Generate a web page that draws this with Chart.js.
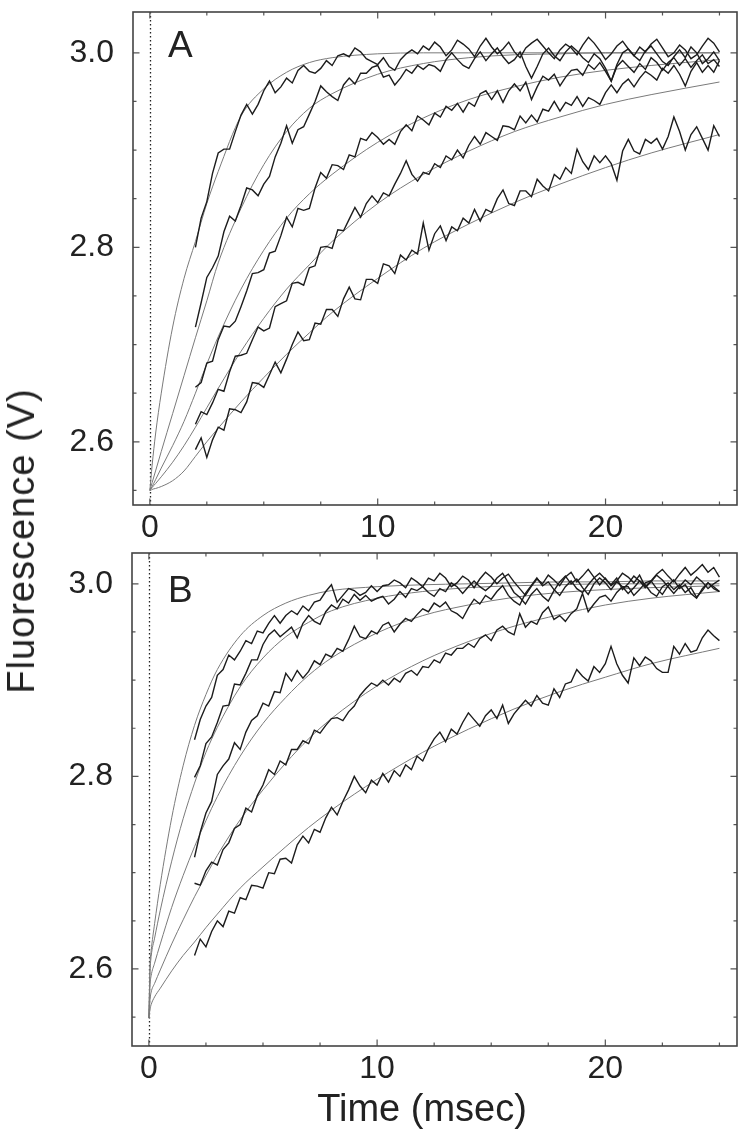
<!DOCTYPE html>
<html><head><meta charset="utf-8">
<script src="https://cdn.jsdelivr.net/npm/chart.js@4.4.1/dist/chart.umd.min.js"></script>
<style>
html,body{margin:0;padding:0;background:#fff;}
#wrap{position:relative;width:750px;height:1142px;background:#fff;overflow:hidden;}
canvas{position:absolute;left:0;}
#cA{top:0;}
#cB{top:548px;}
.ttl{position:absolute;font-family:'Liberation Sans',Arial,Helvetica,sans-serif;color:#222;line-height:1;white-space:nowrap;}
#ylab{left:21px;top:541px;font-size:38px;letter-spacing:1px;transform:translate(-50%,-50%) rotate(-90deg);}
#xlab{left:422px;top:1089px;font-size:38px;transform:translateX(-50%);}
</style></head>
<body><div id="wrap">
<canvas id="cA" width="750" height="548"></canvas>
<canvas id="cB" width="750" height="594"></canvas>
<div class="ttl" id="ylab">Fluorescence (V)</div>
<div class="ttl" id="xlab">Time (msec)</div>
</div>
<script>
// ---- time bases (ms) ----
const TIME = [2,2.25,2.5,2.75,3,3.25,3.5,3.75,4,4.25,4.5,4.75,5,5.25,5.5,5.75,6,6.25,6.5,6.75,7,7.25,7.5,7.75,8,8.25,8.5,8.75,9,9.25,9.5,9.75,10,10.25,10.5,10.75,11,11.25,11.5,11.75,12,12.25,12.5,12.75,13,13.25,13.5,13.75,14,14.25,14.5,14.75,15,15.25,15.5,15.75,16,16.25,16.5,16.75,17,17.25,17.5,17.75,18,18.25,18.5,18.75,19,19.25,19.5,19.75,20,20.25,20.5,20.75,21,21.25,21.5,21.75,22,22.25,22.5,22.75,23,23.25,23.5,23.75,24,24.25,24.5,24.75,25];
const FIT_T = [0,0.05,0.1,0.25,0.5,1,1.5,2,2.5,3,4,5,6,7,8,10,12,14,16,18,20,22,25];

// ---- panel A traces (V) ----
const A_TRACE_1 = [2.800,2.830,2.847,2.876,2.897,2.901,2.901,2.919,
2.936,2.947,2.937,2.947,2.961,2.971,2.959,2.965,
2.974,2.969,2.982,2.987,2.981,2.979,2.984,2.992,
2.987,2.997,2.999,2.996,3.005,3.001,2.994,2.991,
2.988,2.995,2.986,2.982,2.993,2.999,3.003,2.999,
3.007,3.003,3.011,3.006,2.997,3.003,3.013,3.009,
3.004,2.996,3.007,3.015,3.006,2.999,3.004,3.011,
3.001,2.995,3.005,3.010,3.014,3.007,3.000,2.994,
3.003,3.009,3.005,2.998,3.008,3.016,3.010,3.002,
2.993,2.999,3.007,3.012,3.004,2.997,3.006,3.001,
3.009,3.014,3.005,2.996,3.000,3.008,3.003,2.994,
2.998,3.007,3.015,3.010,3.001];
const A_TRACE_2 = [2.718,2.743,2.769,2.779,2.791,2.816,2.832,2.827,
2.843,2.861,2.859,2.853,2.865,2.873,2.893,2.907,
2.925,2.907,2.921,2.924,2.937,2.950,2.966,2.960,
2.955,2.951,2.967,2.974,2.968,2.979,2.979,2.985,
2.987,2.975,2.977,2.967,2.974,2.983,2.979,2.987,
2.983,2.988,2.986,2.981,2.993,3.000,2.993,2.987,
2.984,2.994,3.001,2.992,2.999,3.005,2.996,2.989,
2.993,3.001,2.986,2.974,2.986,2.999,3.005,2.997,
2.992,3.001,3.007,3.002,2.995,2.990,2.999,2.994,
2.984,2.971,2.988,3.000,3.004,2.997,2.992,3.002,
3.007,2.999,2.991,2.987,2.996,3.003,2.995,3.006,
3.000,2.989,2.994,3.001,2.992];
const A_TRACE_3 = [2.656,2.661,2.681,2.683,2.705,2.719,2.718,2.724,
2.739,2.755,2.773,2.774,2.777,2.794,2.796,2.812,
2.831,2.821,2.840,2.838,2.840,2.861,2.877,2.871,
2.885,2.884,2.880,2.895,2.893,2.912,2.910,2.918,
2.913,2.906,2.911,2.906,2.919,2.926,2.920,2.935,
2.931,2.926,2.938,2.934,2.945,2.941,2.948,2.939,
2.949,2.945,2.958,2.961,2.952,2.961,2.949,2.961,
2.968,2.961,2.970,2.952,2.965,2.976,2.972,2.978,
2.966,2.975,2.982,2.983,2.977,2.988,2.983,2.990,
2.981,2.971,2.986,2.992,2.986,2.980,2.989,2.983,
2.995,2.990,2.982,2.990,2.995,2.987,2.994,2.985,
2.992,2.998,2.989,2.993,2.986];
const A_TRACE_4 = [2.618,2.631,2.628,2.640,2.654,2.652,2.672,2.688,
2.689,2.691,2.705,2.718,2.714,2.717,2.739,2.742,
2.745,2.763,2.764,2.761,2.779,2.781,2.800,2.801,
2.799,2.818,2.817,2.829,2.841,2.831,2.845,2.853,
2.846,2.856,2.853,2.865,2.876,2.889,2.875,2.868,
2.877,2.875,2.886,2.882,2.894,2.890,2.900,2.892,
2.905,2.914,2.906,2.918,2.914,2.910,2.925,2.924,
2.921,2.935,2.928,2.936,2.929,2.942,2.940,2.950,
2.940,2.949,2.946,2.955,2.945,2.954,2.951,2.947,
2.959,2.967,2.959,2.968,2.973,2.965,2.974,2.981,
2.977,2.972,2.984,2.979,2.987,2.978,2.966,2.981,
2.990,2.980,2.987,2.980,2.992];
const A_TRACE_5 = [2.592,2.604,2.584,2.602,2.615,2.612,2.634,2.633,
2.630,2.641,2.661,2.660,2.656,2.669,2.682,2.671,
2.685,2.700,2.713,2.704,2.705,2.722,2.721,2.736,
2.736,2.729,2.747,2.759,2.747,2.746,2.767,2.767,
2.763,2.783,2.781,2.773,2.792,2.787,2.797,2.793,
2.825,2.797,2.814,2.822,2.807,2.821,2.817,2.830,
2.825,2.839,2.827,2.839,2.836,2.850,2.859,2.845,
2.843,2.858,2.858,2.852,2.870,2.863,2.858,2.875,
2.870,2.882,2.876,2.901,2.888,2.880,2.894,2.887,
2.894,2.886,2.869,2.899,2.911,2.899,2.896,2.911,
2.907,2.912,2.901,2.914,2.934,2.919,2.900,2.916,
2.924,2.912,2.900,2.925,2.914];

// ---- panel A fitted curves (V) at FIT_T ----
const A_FIT_1 = [2.550,2.563,2.576,2.608,2.650,2.718,2.768,2.806,2.845,2.878,2.935,2.963,2.980,2.990,2.995,2.999,3.000,3.000,3.000,3.000,3.000,3.000,3.000];
const A_FIT_2 = [2.550,2.554,2.558,2.570,2.590,2.629,2.668,2.707,2.745,2.784,2.840,2.885,2.919,2.943,2.958,2.978,2.989,2.995,2.998,2.999,3.000,3.000,3.000];
const A_FIT_3 = [2.550,2.552,2.554,2.561,2.573,2.596,2.621,2.650,2.680,2.708,2.757,2.797,2.830,2.855,2.875,2.908,2.933,2.952,2.965,2.975,2.982,2.987,2.993];
const A_FIT_4 = [2.550,2.551,2.553,2.557,2.564,2.579,2.596,2.615,2.635,2.655,2.693,2.727,2.757,2.782,2.806,2.845,2.875,2.899,2.919,2.934,2.947,2.957,2.970];
const A_FIT_5 = [2.550,2.550,2.551,2.552,2.554,2.560,2.570,2.585,2.600,2.614,2.641,2.666,2.690,2.712,2.733,2.768,2.799,2.824,2.846,2.865,2.882,2.897,2.916];

// ---- panel B traces (V) ----
const B_TRACE_1 = [2.838,2.859,2.873,2.882,2.905,2.911,2.926,2.921,
2.930,2.941,2.938,2.951,2.949,2.959,2.967,2.959,
2.967,2.972,2.968,2.977,2.972,2.981,2.983,2.992,
2.999,2.981,2.988,2.995,2.993,2.988,2.991,2.998,
2.992,2.998,2.999,3.004,3.001,2.996,3.006,3.002,
2.997,3.006,3.003,3.011,3.006,2.997,3.001,3.008,
3.004,2.996,3.005,3.012,3.007,3.000,3.006,3.010,
3.002,2.995,2.988,2.997,3.005,3.000,3.009,3.004,
2.998,3.007,3.012,3.002,3.008,3.015,3.007,2.999,
3.006,2.998,3.003,3.011,3.007,3.001,3.009,2.997,
3.003,3.010,3.015,3.008,3.002,3.010,3.017,3.009,
3.014,3.020,3.012,3.017,3.007];
const B_TRACE_2 = [2.799,2.811,2.834,2.841,2.856,2.873,2.874,2.896,
2.895,2.907,2.921,2.921,2.937,2.947,2.952,2.945,
2.950,2.955,2.944,2.959,2.967,2.961,2.958,2.971,
2.978,2.974,2.984,2.980,2.989,2.983,2.988,2.982,
2.985,2.987,2.979,2.984,2.992,2.986,2.995,2.993,
2.997,2.991,2.987,2.995,2.992,3.001,2.997,2.990,
2.997,3.003,2.997,2.993,2.998,3.006,3.011,3.001,
2.991,2.986,2.979,2.989,2.995,2.987,2.982,2.993,
3.002,3.008,3.000,3.005,2.996,2.989,3.000,3.006,
3.001,2.994,3.002,2.997,2.990,2.996,3.003,2.999,
2.991,2.987,2.997,3.001,2.994,2.999,2.991,2.996,
2.986,2.993,3.001,2.997,2.992];
const B_TRACE_3 = [2.716,2.742,2.762,2.774,2.802,2.811,2.818,2.835,
2.828,2.846,2.858,2.863,2.876,2.873,2.888,2.887,
2.907,2.899,2.910,2.902,2.909,2.920,2.916,2.927,
2.924,2.933,2.930,2.942,2.956,2.945,2.943,2.951,
2.948,2.957,2.960,2.950,2.958,2.964,2.961,2.968,
2.974,2.971,2.980,2.976,2.981,2.972,2.969,2.964,
2.975,2.984,2.979,2.988,2.984,2.992,2.998,2.988,
2.982,2.978,2.990,2.998,3.006,2.998,3.002,2.994,
2.988,2.997,3.003,2.995,2.991,2.999,3.006,3.011,
3.005,2.999,3.006,2.994,3.000,3.008,3.003,2.996,
3.002,3.009,3.004,2.997,2.990,2.997,3.004,2.999,
3.007,3.002,2.995,3.000,3.004];
const B_TRACE_4 = [2.689,2.687,2.702,2.711,2.708,2.724,2.731,2.746,
2.750,2.767,2.763,2.780,2.791,2.807,2.802,2.816,
2.812,2.828,2.828,2.837,2.834,2.848,2.845,2.853,
2.860,2.861,2.858,2.867,2.873,2.884,2.891,2.897,
2.894,2.900,2.895,2.902,2.898,2.907,2.910,2.905,
2.914,2.913,2.921,2.918,2.928,2.926,2.933,2.933,
2.938,2.934,2.943,2.947,2.941,2.952,2.956,2.950,
2.947,2.969,2.955,2.961,2.958,2.970,2.976,2.963,
2.967,2.961,2.969,2.974,2.990,2.971,2.979,2.986,
2.988,2.982,2.991,2.997,2.997,2.988,2.994,3.001,
3.003,2.995,2.989,2.998,3.004,2.995,2.999,2.990,
2.985,2.995,3.001,2.995,2.992];
const B_TRACE_5 = [2.614,2.631,2.623,2.639,2.650,2.644,2.660,2.658,
2.674,2.672,2.687,2.686,2.684,2.700,2.699,2.714,
2.715,2.710,2.729,2.738,2.731,2.745,2.742,2.757,
2.768,2.760,2.774,2.786,2.800,2.790,2.783,2.796,
2.791,2.803,2.794,2.806,2.800,2.812,2.807,2.821,
2.816,2.829,2.839,2.846,2.836,2.849,2.844,2.856,
2.866,2.859,2.852,2.863,2.869,2.860,2.874,2.855,
2.865,2.872,2.879,2.873,2.884,2.876,2.874,2.891,
2.882,2.896,2.898,2.911,2.904,2.899,2.914,2.908,
2.917,2.935,2.917,2.905,2.897,2.923,2.915,2.924,
2.920,2.912,2.908,2.908,2.935,2.927,2.938,2.929,
2.931,2.944,2.952,2.946,2.941];

// ---- panel B fitted curves (V) at FIT_T ----
const B_FIT_1 = [2.549,2.605,2.619,2.647,2.688,2.757,2.811,2.853,2.885,2.911,2.946,2.967,2.980,2.988,2.993,2.997,2.999,3.000,3.001,3.002,3.002,3.003,3.003];
const B_FIT_2 = [2.549,2.597,2.613,2.632,2.661,2.712,2.756,2.793,2.825,2.851,2.893,2.923,2.945,2.960,2.972,2.985,2.992,2.996,2.998,2.999,3.000,3.000,3.000];
const B_FIT_3 = [2.549,2.583,2.593,2.606,2.626,2.664,2.697,2.727,2.754,2.779,2.821,2.855,2.882,2.905,2.923,2.949,2.967,2.978,2.986,2.991,2.994,2.996,2.998];
const B_FIT_4 = [2.549,2.568,2.576,2.585,2.599,2.626,2.651,2.675,2.697,2.718,2.755,2.786,2.814,2.839,2.860,2.894,2.920,2.940,2.956,2.968,2.978,2.985,2.992];
const B_FIT_5 = [2.549,2.558,2.563,2.571,2.580,2.598,2.614,2.628,2.643,2.657,2.684,2.706,2.727,2.747,2.765,2.797,2.825,2.849,2.870,2.888,2.903,2.917,2.933];

// ---- axes ----
const X_TICKS = [0, 10, 20];
const X_MINOR = [2.5, 5, 7.5, 12.5, 15, 17.5, 22.5, 25];
const Y_TICKS = [2.6, 2.8, 3.0];
const Y_MINOR = [2.55, 2.65, 2.7, 2.75, 2.85, 2.9, 2.95];
const X_MIN = -0.74, X_MAX = 25.77;
const A_Y_MIN = 2.535, A_Y_MAX = 3.042;
const B_Y_MIN = 2.520, B_Y_MAX = 3.032;
const STIM_T = 0;

const FONT = "'Liberation Sans', Arial, Helvetica, sans-serif";
const INK = '#222';

function pts(xs, ys) { return xs.map((x, i) => ({x: x, y: ys[i]})); }

const framePlugin = {
  id: 'frame',
  beforeDatasetsDraw(chart) {
    const {ctx, chartArea: a, scales: {x}} = chart;
    const px = Math.round(x.getPixelForValue(STIM_T)) + 0.5;
    ctx.save();
    ctx.strokeStyle = '#222';
    ctx.lineWidth = 1.3;
    ctx.setLineDash([1.5, 2.5]);
    ctx.beginPath();
    ctx.moveTo(px, a.top);
    ctx.lineTo(px, a.bottom);
    ctx.stroke();
    ctx.restore();
  },
  afterDatasetsDraw(chart, args, opts) {
    const {ctx, chartArea: a, scales: {x, y}} = chart;
    ctx.save();
    ctx.setLineDash([]);
    ctx.strokeStyle = '#555';
    ctx.lineWidth = 1.2;
    ctx.beginPath();
    const tk = (v, len, isX) => {
      if (isX) {
        const p = x.getPixelForValue(v);
        ctx.moveTo(p, a.bottom); ctx.lineTo(p, a.bottom - len);
        ctx.moveTo(p, a.top); ctx.lineTo(p, a.top + len);
      } else {
        const p = y.getPixelForValue(v);
        ctx.moveTo(a.left, p); ctx.lineTo(a.left + len, p);
        ctx.moveTo(a.right, p); ctx.lineTo(a.right - len, p);
      }
    };
    X_TICKS.forEach(v => tk(v, 6.5, true));
    X_MINOR.forEach(v => tk(v, 3.5, true));
    Y_TICKS.forEach(v => tk(v, 6.5, false));
    Y_MINOR.forEach(v => tk(v, 3.5, false));
    ctx.stroke();
    ctx.strokeStyle = '#444';
    ctx.lineWidth = 1.6;
    ctx.strokeRect(a.left, a.top, a.right - a.left, a.bottom - a.top);
    ctx.fillStyle = INK;
    ctx.font = '37px ' + FONT;
    ctx.textAlign = 'left';
    ctx.textBaseline = 'alphabetic';
    ctx.fillText(opts.label, opts.lx, a.top + opts.ly);
    ctx.restore();
  }
};

function panel(id, traces, fits, cfg) {
  const ds = [];
  traces.forEach(tr => ds.push({
    data: pts(TIME, tr), borderColor: '#1c1c1c', borderWidth: 1.4,
    pointRadius: 0, tension: 0, order: 0, fill: false
  }));
  fits.forEach(f => ds.push({
    data: pts(FIT_T, f), borderColor: '#7a7a7a', borderWidth: 1,
    pointRadius: 0, cubicInterpolationMode: 'monotone', order: 1, fill: false
  }));
  return new Chart(document.getElementById(id), {
    type: 'line',
    data: {datasets: ds},
    options: {
      responsive: false, animation: false, devicePixelRatio: 1, events: [],
      layout: {padding: {left: 0, right: cfg.right, top: cfg.top, bottom: 0}},
      plugins: {legend: {display: false}, tooltip: {enabled: false},
                frame: {label: cfg.label, lx: 168, ly: cfg.ly}},
      scales: {
        x: {
          type: 'linear', min: X_MIN, max: X_MAX,
          grid: {display: false}, border: {display: false},
          afterBuildTicks: s => { s.ticks = X_TICKS.map(v => ({value: v})); },
          afterFit: s => { s.height = cfg.xh; s.paddingLeft = 0; s.paddingRight = 0; },
          ticks: {padding: -4, color: INK, font: {family: FONT, size: 32},
                  maxRotation: 0, autoSkip: false, callback: v => String(v)}
        },
        y: {
          type: 'linear', min: cfg.ymin, max: cfg.ymax,
          grid: {display: false}, border: {display: false},
          afterBuildTicks: s => { s.ticks = Y_TICKS.map(v => ({value: v})); },
          afterFit: s => { s.width = cfg.yw; s.paddingTop = 0; s.paddingBottom = 0; },
          ticks: {padding: 11, color: INK, font: {family: FONT, size: 32},
                  callback: v => Number(v).toFixed(1)}
        }
      }
    },
    plugins: [framePlugin]
  });
}

panel('cA',
  [A_TRACE_1, A_TRACE_2, A_TRACE_3, A_TRACE_4, A_TRACE_5],
  [A_FIT_1, A_FIT_2, A_FIT_3, A_FIT_4, A_FIT_5],
  {label: 'A', ly: 44.7, yw: 133, right: 13, top: 12, xh: 43, ymin: A_Y_MIN, ymax: A_Y_MAX});
panel('cB',
  [B_TRACE_1, B_TRACE_2, B_TRACE_3, B_TRACE_4, B_TRACE_5],
  [B_FIT_1, B_FIT_2, B_FIT_3, B_FIT_4, B_FIT_5],
  {label: 'B', ly: 48.7, yw: 132, right: 13, top: 5, xh: 96, ymin: B_Y_MIN, ymax: B_Y_MAX});
</script>
</body></html>
